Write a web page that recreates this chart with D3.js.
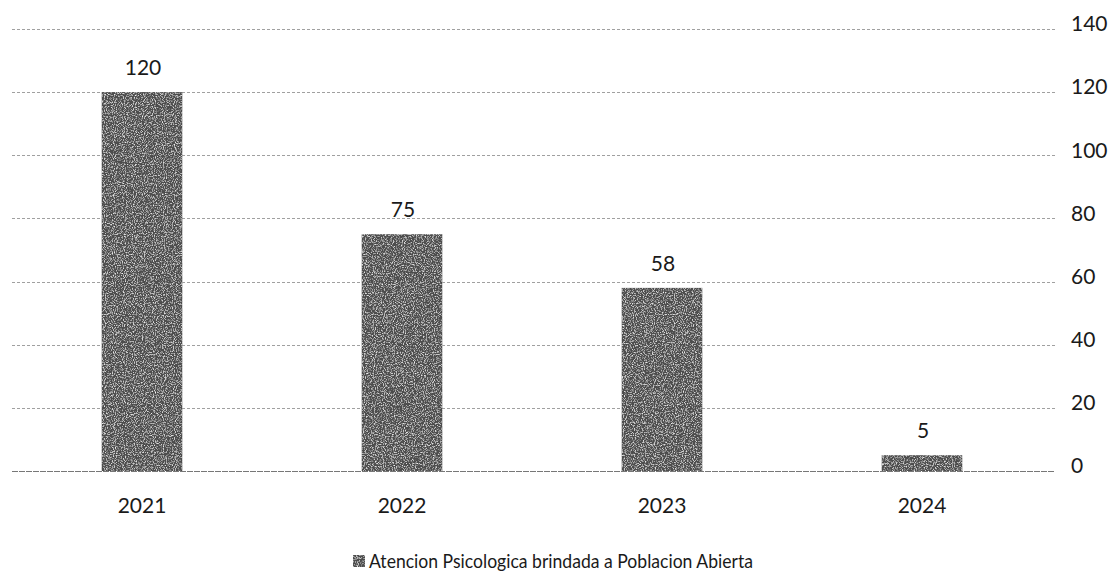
<!DOCTYPE html>
<html lang="es">
<head>
<meta charset="UTF-8">
<title>Atencion Psicologica</title>
<script src="https://d3js.org/d3.v7.min.js"></script>
<style>
  body { margin: 0; background: #fff; }
  text { font-family: Lato, "Open Sans", sans-serif; fill: #1a1a1a; }
</style>
</head>
<body>
<div id="chart"></div>
<script>
// data
var years = ["2021", "2022", "2023", "2024"];
var values = [120, 75, 58, 5];
var yTicks = [0, 20, 40, 60, 80, 100, 120, 140];
var seriesName = "Atencion Psicologica brindada a Poblacion Abierta";

var W = 1113, H = 586;
var plotLeft = 12, plotRight = 1052, plotTop = 29, plotBottom = 471;

var svg = d3.select("#chart").append("svg")
    .attr("width", W)
    .attr("height", H);

// grainy texture, a bit like the photocopy
var defs = svg.append("defs");
var f = defs.append("filter").attr("id", "grain")
    .attr("x", 0).attr("y", 0).attr("width", 1).attr("height", 1);
f.append("feTurbulence").attr("type", "fractalNoise")
    .attr("baseFrequency", 0.9).attr("numOctaves", 2).attr("seed", 3).attr("result", "noise");
f.append("feColorMatrix").attr("in", "noise").attr("type", "matrix")
    .attr("values", "0 0 0 0 1  0 0 0 0 1  0 0 0 0 1  2.2 0 0 0 -1.05")
    .attr("result", "specks");
f.append("feComposite").attr("in", "specks").attr("in2", "SourceGraphic").attr("operator", "in").attr("result", "clip");
f.append("feMerge").selectAll("feMergeNode")
    .data(["SourceGraphic", "clip"]).enter()
    .append("feMergeNode").attr("in", function(d) { return d; });

var x = d3.scaleBand()
    .domain(years)
    .range([plotLeft, plotRight])
    .paddingInner(0.69)
    .paddingOuter(0.345);

var y = d3.scaleLinear()
    .domain([0, 140])
    .range([plotBottom, plotTop]);

// gridlines
svg.append("g")
    .selectAll("line")
    .data(yTicks)
    .enter()
    .append("line")
        .attr("x1", plotLeft)
        .attr("x2", plotRight + 3)
        .attr("y1", function(d) { return Math.round(y(d)) + 0.5; })
        .attr("y2", function(d) { return Math.round(y(d)) + 0.5; })
        .attr("stroke", function(d) { return d === 0 ? "#777" : "#a0a0a0"; })
        .attr("stroke-width", 1)
        .attr("stroke-dasharray", function(d) { return d === 0 ? "6,1" : "3,2"; });

// right axis labels
var yAxis = d3.axisRight(y).tickValues(yTicks).tickSize(0).tickPadding(0);
var gAxis = svg.append("g")
    .attr("transform", "translate(1071,-5)")
    .call(yAxis);
gAxis.select(".domain").remove();
gAxis.selectAll("text")
    .style("font-family", "Lato, 'Open Sans', sans-serif")
    .style("font-size", "21px")
    .attr("fill", "#1a1a1a");

// bars
svg.append("g")
    .selectAll("rect")
    .data(values)
    .enter()
    .append("rect")
        .attr("x", function(d, i) { return x(years[i]); })
        .attr("y", function(d) { return y(d); })
        .attr("width", x.bandwidth())
        .attr("height", function(d) { return y(0) - y(d); })
        .attr("fill", "#4d4d4d")
        .attr("filter", "url(#grain)");

// value labels
svg.append("g")
    .selectAll("text")
    .data(values)
    .enter()
    .append("text")
        .attr("x", function(d, i) { return x(years[i]) + x.bandwidth() / 2 + 1; })
        .attr("y", function(d) { return y(d) - 17; })
        .attr("text-anchor", "middle")
        .style("font-size", "21px")
        .text(function(d) { return d; });

// category labels
var xAxis = d3.axisBottom(x).tickSize(0).tickPadding(0);
var gx = svg.append("g")
    .attr("transform", "translate(0,498)")
    .call(xAxis);
gx.select(".domain").remove();
gx.selectAll("text")
    .style("font-family", "Lato, 'Open Sans', sans-serif")
    .style("font-size", "21px")
    .attr("fill", "#1a1a1a");

// legend
var legend = svg.append("g").attr("transform", "translate(353,555)");
legend.append("rect")
    .attr("width", 12)
    .attr("height", 12)
    .attr("fill", "#4d4d4d")
    .attr("filter", "url(#grain)");
legend.append("text")
    .attr("x", 16)
    .attr("y", 13)
    .attr("textLength", 384)
    .attr("lengthAdjust", "spacingAndGlyphs")
    .style("font-size", "20px")
    .text(seriesName);
</script>
</body>
</html>
